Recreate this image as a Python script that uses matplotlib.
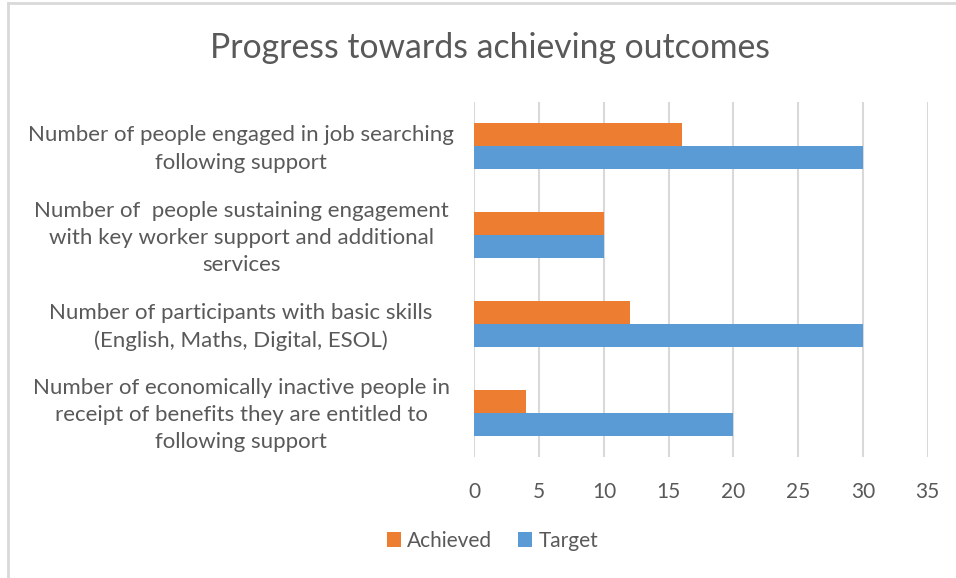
import matplotlib.pyplot as plt
import matplotlib.transforms as mtransforms
from matplotlib.lines import Line2D
import numpy as np

plt.rcParams['font.family'] = ['Lato', 'DejaVu Sans']

# outcome categories, top to bottom
categories = [
    "Number of people engaged in job searching\nfollowing support",
    "Number of  people sustaining engagement\nwith key worker support and additional\nservices",
    "Number of participants with basic skills\n(English, Maths, Digital, ESOL)",
    "Number of economically inactive people in\nreceipt of benefits they are entitled to\nfollowing support",
]
achieved = [16, 10, 12, 4]
target = [30, 10, 30, 20]
xticks = [0, 5, 10, 15, 20, 25, 30, 35]

orange = '#ED7D31'
blue = '#5B9BD5'
grey_txt = '#595959'

fig = plt.figure(figsize=(9.56, 5.78), dpi=100)
ax = fig.add_axes([0.4963, 0.2093, 0.4741, 0.6142])

y = np.arange(len(categories))
h = 0.26
ax.barh(y - h / 2, achieved, height=h, color=orange, label='Achieved', zorder=3)
ax.barh(y + h / 2, target, height=h, color=blue, label='Target', zorder=3)

ax.set_ylim(len(categories) - 0.5, -0.5)
ax.set_xlim(0, 35)
ax.set_xticks(xticks)
ax.set_yticks(y)
ax.set_yticklabels(categories, ha='center', fontsize=16, color=grey_txt, linespacing=1.45)
ax.tick_params(axis='y', length=0, pad=168)
ax.tick_params(axis='x', length=0, pad=18, labelsize=15, labelcolor=grey_txt)
ax.grid(axis='x', color='#D9D9D9', linewidth=1.5, zorder=0)
for s in ax.spines.values():
    s.set_visible(False)

# nudge category labels up a little so they sit centred on their bar pair
shift = mtransforms.ScaledTranslation(0, 3 / 100, fig.dpi_scale_trans)
for lbl in ax.get_yticklabels():
    lbl.set_transform(lbl.get_transform() + shift)

fig.text(0.513, 0.917, "Progress towards achieving outcomes", ha='center', va='center',
         fontsize=24.3, color=grey_txt)

handles, labels = ax.get_legend_handles_labels()
fig.legend(handles, labels, loc='center', bbox_to_anchor=(0.515, 0.064), ncol=2, frameon=False,
           fontsize=15, labelcolor=grey_txt, handlelength=0.7, handleheight=0.7,
           handletextpad=0.3, columnspacing=1.2)

# chart frame edges
fig.add_artist(Line2D([8 / 956, 8 / 956], [0, 1 - 3 / 578], color='#D9D9D9', lw=2))
fig.add_artist(Line2D([8 / 956, 1], [1 - 3 / 578, 1 - 3 / 578], color='#D9D9D9', lw=2))

fig.savefig('out.png', dpi=100)
